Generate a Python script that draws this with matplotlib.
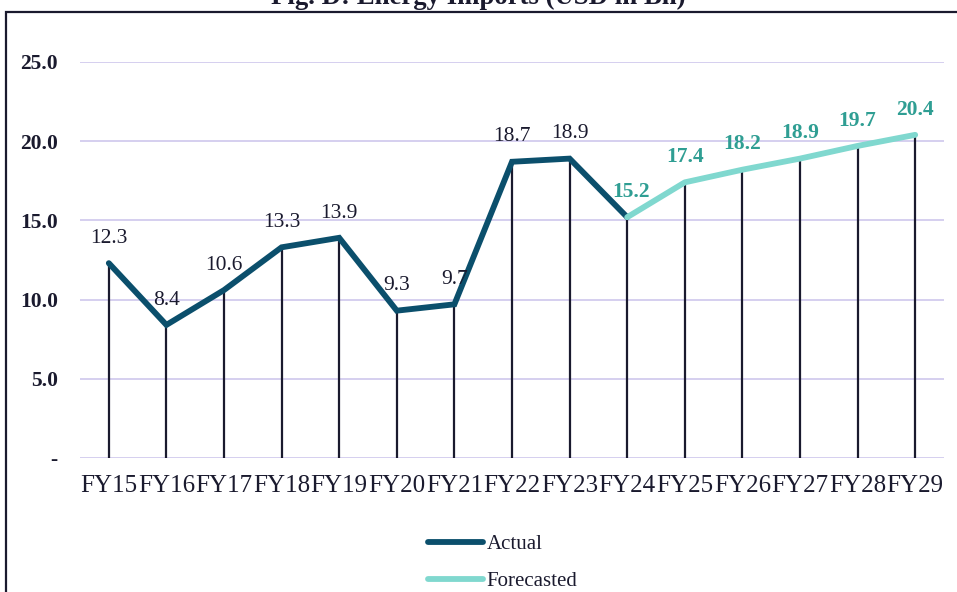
import matplotlib.pyplot as plt
from matplotlib.lines import Line2D
from matplotlib.patches import Rectangle

# data
years = ['FY15', 'FY16', 'FY17', 'FY18', 'FY19', 'FY20', 'FY21', 'FY22',
         'FY23', 'FY24', 'FY25', 'FY26', 'FY27', 'FY28', 'FY29']
actual = [12.3, 8.4, 10.6, 13.3, 13.9, 9.3, 9.7, 18.7, 18.9, 15.2]
forecast = [15.2, 17.4, 18.2, 18.9, 19.7, 20.4]
all_values = actual + forecast[1:]

plt.rcParams['font.family'] = ['Liberation Serif', 'DejaVu Serif']

dark = '#0b4f6c'
light = '#80d8cf'
label_teal = '#2f9e93'
ink = '#1a1a2e'

fig = plt.figure(figsize=(9.57, 5.92), dpi=100)
ax = fig.add_axes([0.0836, 0.2264, 0.9028, 0.6689])

# outer border (cut off at the right/bottom edges)
fig.patches.append(Rectangle((6 / 957, -0.1), 1.2, 1.1 - 12 / 592,
                             transform=fig.transFigure, fill=False,
                             edgecolor=ink, linewidth=1.6))

fig.text(0.5, 1 - 4 / 592, 'Fig. D: Energy Imports (USD in Bn)',
         ha='center', va='baseline', fontsize=19.3, fontweight='bold', color=ink)

x = list(range(len(years)))
x_act = x[:len(actual)]
x_fc = x[len(actual) - 1:]

# drop lines
ax.vlines(x, 0, all_values, color=ink, linewidth=1.6, zorder=2)

ax.plot(x_act, actual, color=dark, linewidth=4.2, solid_capstyle='round',
        solid_joinstyle='miter', zorder=3)
ax.plot(x_fc, forecast, color=light, linewidth=4.2, solid_capstyle='round',
        zorder=3)

for i, v in zip(x_act[:-1], actual[:-1]):
    ax.annotate(f'{v:.1f}', (i, v), xytext=(0, 11), textcoords='offset points',
                ha='center', va='bottom', fontsize=15.5, color=ink)
for i, v in zip(x_fc, forecast):
    ax.annotate(f'{v:.1f}', (i, v), xytext=(3 if i == x_fc[0] else 0, 11),
                textcoords='offset points', ha='center', va='bottom',
                fontsize=15.5, fontweight='bold', color=label_teal)

ax.set_xlim(-0.5, len(years) - 0.5)
ax.set_ylim(0, 25)
ax.set_xticks(x)
ax.set_xticklabels(years, fontsize=18, color=ink)
yt = [0, 5, 10, 15, 20, 25]
ax.set_yticks(yt)
ax.set_yticklabels(['-'] + [f'{v:.1f}' for v in yt[1:]], fontsize=15.5,
                   fontweight='bold', color=ink)
ax.tick_params(axis='x', length=0, pad=12)
ax.tick_params(axis='y', length=0, pad=16)
ax.grid(axis='y', color='#d2cbee', linewidth=1.3)
ax.set_axisbelow(True)
for s in ax.spines.values():
    s.set_visible(False)

handles = [Line2D([], [], color=dark, linewidth=4.2, solid_capstyle='round'),
           Line2D([], [], color=light, linewidth=4.2, solid_capstyle='round')]
fig.legend(handles, ['Actual', 'Forecasted'], loc='center',
           bbox_to_anchor=(503 / 957, 1 - 563 / 592), frameon=False,
           fontsize=15, handlelength=2.6, handletextpad=0.2,
           labelspacing=0.82, labelcolor=ink)

fig.savefig('out.png', dpi=100)
